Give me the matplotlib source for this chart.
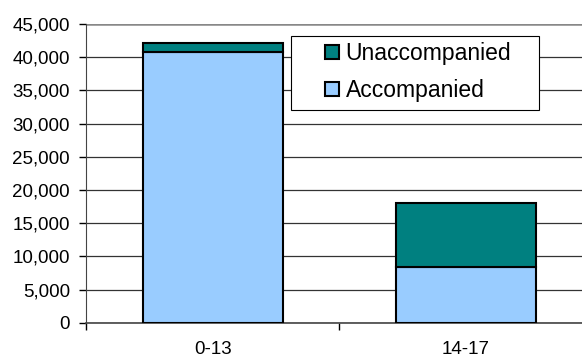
"""
Stacked bars of accompanied and unaccompanied children by age group.
"""
import matplotlib.pyplot as plt
from matplotlib.patches import Rectangle
from matplotlib.ticker import FuncFormatter

plt.rcParams["font.family"] = ["Liberation Sans", "DejaVu Sans"]

# Data
age_groups = ["0-13", "14-17"]
accompanied = [40800, 8400]
unaccompanied = [1350, 9700]

W, H = 582, 358
fig = plt.figure(figsize=(W / 100, H / 100), dpi=100)
ax = fig.add_axes([86 / W, 1 - 322.7 / H, 506.6 / W, 298.7 / H])

pos = [0.5, 1.5]
ax.bar(pos, accompanied, width=0.553, color="#99CCFF",
       edgecolor="black", linewidth=1.5, label="Accompanied", zorder=3)
ax.bar(pos, unaccompanied, width=0.553, bottom=accompanied, color="#008080",
       edgecolor="black", linewidth=1.5, label="Unaccompanied", zorder=3)

ax.set_xlim(0, 2)
ax.set_ylim(0, 45000)
ax.set_yticks(range(0, 45001, 5000))
ax.yaxis.set_major_formatter(FuncFormatter(lambda v, p: f"{int(v):,}"))
ax.set_xticks([0, 1, 2])
ax.set_xticklabels([])
ax.set_xticks(pos, minor=True)
ax.set_xticklabels(age_groups, minor=True)
ax.tick_params(axis="x", which="minor", length=0, pad=13.5, labelsize=13.5)
ax.tick_params(axis="x", which="major", length=5, width=1, color="black")
ax.tick_params(axis="y", length=5, width=1, pad=6.5, labelsize=13.5)

ax.grid(axis="y", color="#333333", linewidth=0.9, zorder=0)
ax.yaxis.get_gridlines()[-1].set_color("#888888")
ax.yaxis.get_gridlines()[-1].set_linewidth(1.8)
for s in ["right", "top"]:
    ax.spines[s].set_visible(False)
ax.spines["left"].set_color("#444444")
ax.spines["bottom"].set_color("#444444")
ax.spines["bottom"].set_linewidth(1.2)

# legend box, drawn separately so its padding matches the reference
ax.add_patch(Rectangle((291 / W, 1 - 110 / H), 248 / W, 74 / H,
                       transform=fig.transFigure, facecolor="white",
                       edgecolor="black", linewidth=0.8, zorder=4,
                       clip_on=False))
handles, labels = ax.get_legend_handles_labels()
leg = ax.legend(handles[::-1], labels[::-1], loc="upper left",
                bbox_to_anchor=(325 / W, 1 - 42 / H),
                bbox_transform=fig.transFigure,
                fontsize=16.5, frameon=False, handlelength=0.6,
                handleheight=0.6, handletextpad=0.3, borderpad=0,
                labelspacing=0.62, borderaxespad=0)
leg.set_zorder(5)

fig.savefig("out.png", dpi=100)
